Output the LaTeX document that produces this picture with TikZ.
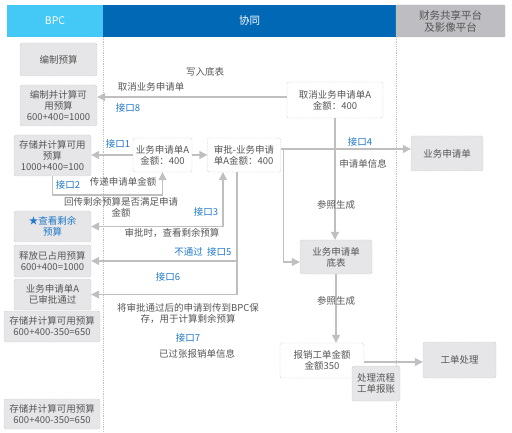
\documentclass[tikz,border=0pt]{standalone}
\usepackage{fontspec}
\setmainfont{Noto Sans CJK SC}
\usetikzlibrary{arrows.meta}

\definecolor{bpcblue}{HTML}{44C8F5}
\definecolor{xtblue}{HTML}{0068B4}
\definecolor{hdgray}{HTML}{BEBEC2}
\definecolor{boxgray}{HTML}{E6E6E8}
\definecolor{linegray}{HTML}{BFBFBF}
\definecolor{txtgray}{HTML}{555555}
\definecolor{ifblue}{HTML}{1F78C8}

\begin{document}
\begin{tikzpicture}[x=1pt, y=-1pt, font=\fontsize{9.5}{11}\selectfont, text=txtgray,
    main/.style = {draw=linegray, dashed, dash pattern=on 1.2pt off 1pt, fill=boxgray, rounded corners=2pt, align=center, inner sep=1pt},
    plain/.style = {main, fill=white},
    lbl/.style = {align=center, inner sep=1pt},
    ifc/.style = {lbl, text=ifblue},
    arr/.style = {draw=linegray, line width=1.2pt, -{Triangle[length=8pt,width=8pt]}},
    arr2/.style = {arr, {Triangle[length=8pt,width=8pt]}-{Triangle[length=8pt,width=8pt]}},
    lane/.style = {draw=linegray, dashed, dash pattern=on 1.2pt off 1pt, line width=0.6pt}]
    \useasboundingbox (0,0) rectangle (512,433);
    % header
    \fill[bpcblue] (7,5) rectangle (103,37);
    \fill[xtblue] (103,5) rectangle (396,37);
    \draw[fill=hdgray, draw=linegray, rounded corners=1pt] (396,5) rectangle (505,37);
    \node[lbl, text=white, font=\fontsize{10.5}{12}\selectfont] (h1) at (55,21) {BPC};
    \node[lbl, text=white, font=\fontsize{10.5}{12}\selectfont] (h2) at (249.5,21) {协同};
    \node[lbl, font=\fontsize{10.5}{12}\selectfont] (h3) at (450.5,21) {财务共享平台\\及影像平台};
    \draw[lane] (103,37) -- (103,433);
    \draw[lane] (396,37) -- (396,433);

    % BPC
    \node[main, minimum width=77pt, minimum height=33pt] (1) at (58.5,59.5) {编制预算};
    \node[main, minimum width=77pt, minimum height=41pt] (2) at (58.5,105.5) {编制并计算可\\用预算\\600+400=1000};
    \node[main, minimum width=77pt, minimum height=41pt] (3) at (52.5,155.5) {存储并计算可用\\预算\\1000+400=100};
    \node[main, minimum width=77pt, minimum height=31pt, text=ifblue] (4) at (52.5,226.5) {★查看剩余\\预算};
    \node[main, minimum width=77pt, minimum height=32pt] (5) at (52.5,261) {释放已占用预算\\600+400=1000};
    \node[main, minimum width=77pt, minimum height=31pt] (6) at (52.5,294.5) {业务申请单A\\已审批通过};
    \node[main, minimum width=96pt, minimum height=31pt] (7) at (52,326.5) {存储并计算可用预算\\600+400-350=650};
    \node[main, minimum width=96pt, minimum height=30pt] (8) at (52,414) {存储并计算可用预算\\600+400-350=650};

    % 协同
    \node[plain, minimum width=96pt, minimum height=36pt] (cancel) at (335,100) {取消业务申请单A\\金额：400};
    \node[plain, minimum width=59pt, minimum height=34pt] (req) at (162.5,155) {业务申请单A\\金额：400};
    \node[plain, minimum width=73pt, minimum height=34pt, align=left] (appr) at (244,155) {审批-业务申请\\单A金额：400};
    \node[main, minimum width=72pt, minimum height=34pt] (base) at (336,257) {业务申请单\\底表};
    \node[plain, minimum width=84pt, minimum height=35pt] (rb) at (322,360.5) {报销工单金额\\金额350};

    % 财务共享
    \node[main, minimum width=72pt, minimum height=35pt] (rapp) at (447,153.5) {业务申请单};
    \node[main, minimum width=73pt, minimum height=36pt] (wo) at (459.5,360) {工单处理};

    % connectors
    \coordinate (c2) at (52.5,195);
    \draw[arr] ([yshift=3pt]cancel.west) -- ([yshift=3pt]cancel.west -| 2.east);
    \draw[arr] (cancel.south) -- (cancel.south |- base.north);
    \draw[arr] ([yshift=6pt]appr.east) -- ([yshift=6pt]appr.east -| rapp.west);
    \draw[arr] ([xshift=3pt,yshift=6pt]appr.east) |- ([yshift=-5pt]base.west);
    \draw[arr] (req.east) -- (appr.west);
    \draw[arr] (req.west) -- (req.west -| 3.east);
    \draw[arr] (3.south) -- (c2) -| (req.south);
    \draw[arr2] (4.east) -| ([xshift=-21pt]appr.south);
    \draw[arr] ([xshift=-7pt]appr.south) |- (5.east);
    \draw[arr] ([xshift=-7pt]appr.south) |- (6.east);
    \draw[arr] (base.south) -- (base.south |- rb.north);
    \draw[arr] ([yshift=-1.5pt]rb.east) -- ([yshift=-1.5pt]rb.east -| wo.west);
    % box on top of the arrow
    \node[main, minimum width=48pt, minimum height=35pt] (proc) at (376,383.5) {处理流程\\工单报账};

    % labels
    \node[lbl] (l1) at (205,72) {写入底表};
    \node[lbl] (l2) at (151,87) {取消业务申请单};
    \node[ifc] (i8) at (128,108) {接口8};
    \node[ifc] (i1) at (118,144) {接口1};
    \node[ifc] (i2) at (68,185) {接口2};
    \node[lbl] (l3) at (123,182) {传递申请单金额};
    \node[lbl] (l4) at (121,207) {回传剩余预算是否满足申请\\金额};
    \node[ifc] (i3) at (206,212) {接口3};
    \node[lbl] (l5) at (172,233) {审批时，查看剩余预算};
    \node[ifc] (i5) at (203,252) {不通过\ \ 接口5};
    \node[ifc] (i6) at (168,277) {接口6};
    \node[lbl] (l6) at (188,313) {将审批通过后的申请到传到BPC保\\存，用于计算剩余预算};
    \node[ifc] (i7) at (188,338) {接口7};
    \node[lbl] (l7) at (197,354) {已过张报销单信息};
    \node[ifc] (i4) at (360,142) {接口4};
    \node[lbl] (l8) at (363,164) {申请单信息};
    \node[lbl] (l9) at (336,205) {参照生成};
    \node[lbl] (l10) at (336,301) {参照生成};
\end{tikzpicture}
\end{document}
